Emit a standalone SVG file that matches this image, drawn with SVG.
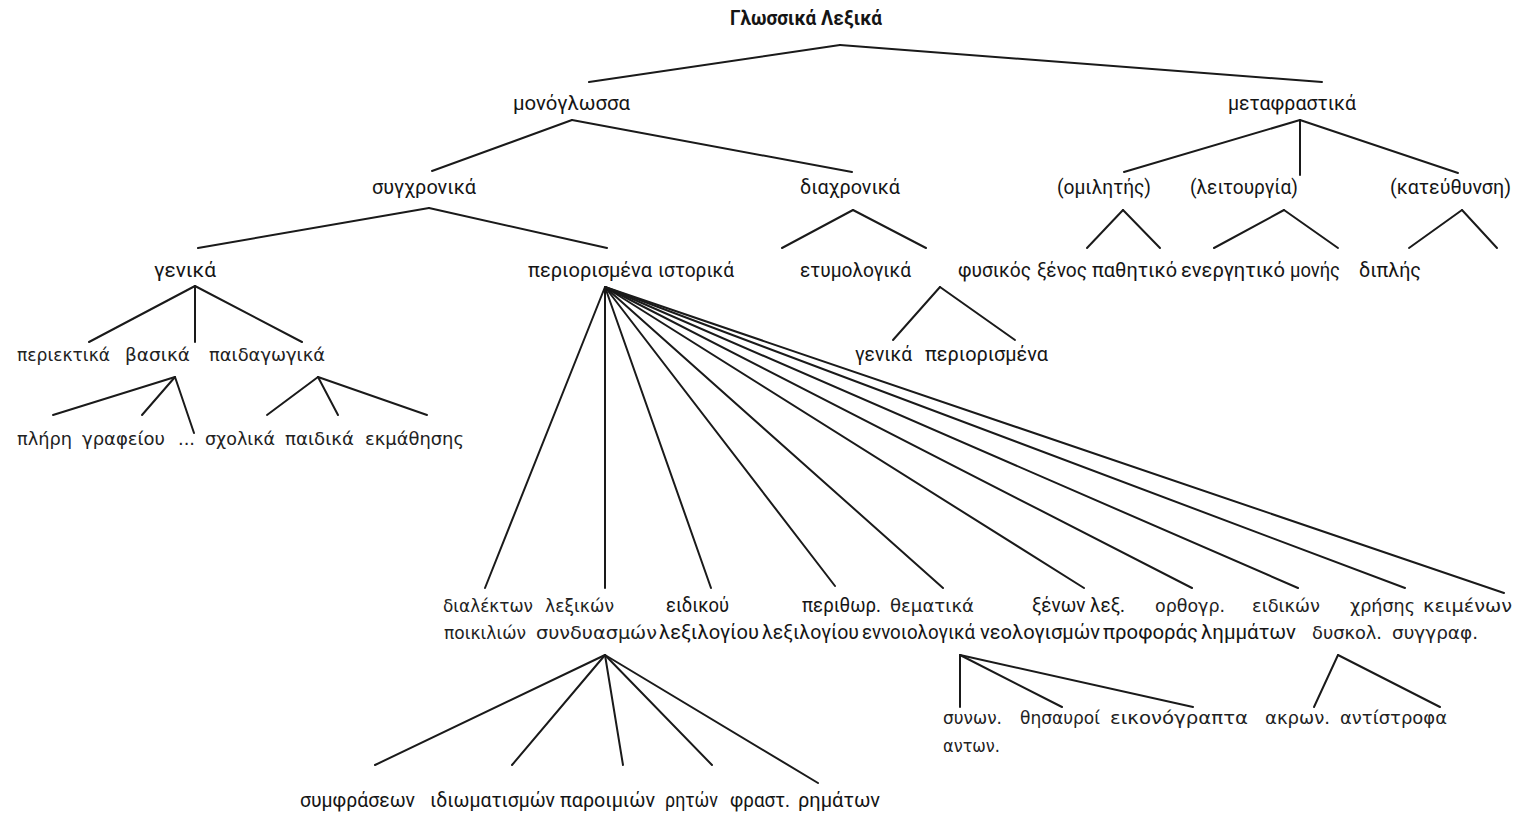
<svg xmlns="http://www.w3.org/2000/svg" width="1522" height="813" viewBox="0 0 1522 813">
<style>
.c{font-family:Roboto,"Noto Sans","DejaVu Sans",sans-serif;font-size:20px;fill:#151515}
.g{font-family:"DejaVu Sans","Noto Sans",sans-serif;font-size:18px;fill:#222}
.b{font-weight:bold}
#edges line{stroke:#1a1a1a;stroke-width:2;stroke-linecap:round}
</style>
<rect width="1522" height="813" fill="#fff"/>
<g id="edges">
<line x1="840" y1="45" x2="589" y2="82"/>
<line x1="840" y1="45" x2="1322" y2="82"/>
<line x1="572" y1="120" x2="432" y2="171"/>
<line x1="572" y1="120" x2="852" y2="172"/>
<line x1="1300" y1="120" x2="1124" y2="172"/>
<line x1="1300" y1="120" x2="1300" y2="175"/>
<line x1="1300" y1="120" x2="1458" y2="173"/>
<line x1="429" y1="208" x2="198" y2="248"/>
<line x1="429" y1="208" x2="607" y2="248"/>
<line x1="853" y1="210" x2="782" y2="248"/>
<line x1="853" y1="210" x2="926" y2="248"/>
<line x1="1123" y1="210" x2="1087" y2="248"/>
<line x1="1123" y1="210" x2="1160" y2="248"/>
<line x1="1284" y1="210" x2="1214" y2="248"/>
<line x1="1284" y1="210" x2="1338" y2="248"/>
<line x1="1462" y1="210" x2="1409" y2="248"/>
<line x1="1462" y1="210" x2="1497" y2="248"/>
<line x1="195" y1="286" x2="89" y2="342"/>
<line x1="195" y1="286" x2="195" y2="342"/>
<line x1="195" y1="286" x2="302" y2="342"/>
<line x1="175" y1="377" x2="53" y2="415"/>
<line x1="175" y1="377" x2="142" y2="415"/>
<line x1="175" y1="377" x2="194" y2="433"/>
<line x1="318" y1="377" x2="267" y2="415"/>
<line x1="318" y1="377" x2="338" y2="415"/>
<line x1="318" y1="377" x2="427" y2="415"/>
<line x1="940" y1="287" x2="893" y2="340"/>
<line x1="940" y1="287" x2="1015" y2="340"/>
<line x1="605" y1="287" x2="485" y2="588"/>
<line x1="605" y1="287" x2="605" y2="588"/>
<line x1="605" y1="287" x2="711" y2="588"/>
<line x1="605" y1="287" x2="835" y2="586"/>
<line x1="605" y1="287" x2="943" y2="588"/>
<line x1="605" y1="287" x2="1084" y2="588"/>
<line x1="605" y1="287" x2="1192" y2="588"/>
<line x1="605" y1="287" x2="1298" y2="588"/>
<line x1="605" y1="287" x2="1405" y2="588"/>
<line x1="605" y1="287" x2="1504" y2="593"/>
<line x1="605" y1="655" x2="375" y2="765"/>
<line x1="605" y1="655" x2="512" y2="765"/>
<line x1="605" y1="655" x2="623" y2="765"/>
<line x1="605" y1="655" x2="712" y2="765"/>
<line x1="605" y1="655" x2="818" y2="783"/>
<line x1="960" y1="655" x2="960" y2="707"/>
<line x1="960" y1="655" x2="1062" y2="707"/>
<line x1="960" y1="655" x2="1193" y2="707"/>
<line x1="1338" y1="655" x2="1314" y2="707"/>
<line x1="1338" y1="655" x2="1440" y2="707"/>
</g>
<g id="n-root"><text class="c b" x="730" y="25" textLength="152" lengthAdjust="spacingAndGlyphs">Γλωσσικά Λεξικά</text></g>
<g id="n-monoglossa"><text class="c" x="513" y="110" textLength="117" lengthAdjust="spacingAndGlyphs">μονόγλωσσα</text></g>
<g id="n-metafrastika"><text class="c" x="1228" y="110" textLength="128" lengthAdjust="spacingAndGlyphs">μεταφραστικά</text></g>
<g id="n-syghronika"><text class="c" x="372" y="194" textLength="104" lengthAdjust="spacingAndGlyphs">συγχρονικά</text></g>
<g id="n-diahronika"><text class="c" x="800" y="194" textLength="100" lengthAdjust="spacingAndGlyphs">διαχρονικά</text></g>
<g id="n-omilitis"><text class="c" x="1057" y="194" textLength="94" lengthAdjust="spacingAndGlyphs">(ομιλητής)</text></g>
<g id="n-leitourgia"><text class="c" x="1190" y="194" textLength="108" lengthAdjust="spacingAndGlyphs">(λειτουργία)</text></g>
<g id="n-kateuthynsi"><text class="c" x="1390" y="194" textLength="121" lengthAdjust="spacingAndGlyphs">(κατεύθυνση)</text></g>
<g id="n-genika"><text class="c" x="154" y="277" textLength="62" lengthAdjust="spacingAndGlyphs">γενικά</text></g>
<g id="n-periorismena-istorika"><text class="c" y="277"><tspan x="528" textLength="124" lengthAdjust="spacingAndGlyphs">περιορισμένα</tspan><tspan x="658" textLength="76" lengthAdjust="spacingAndGlyphs">ιστορικά</tspan></text></g>
<g id="n-etymologika"><text class="c" x="800" y="277" textLength="111" lengthAdjust="spacingAndGlyphs">ετυμολογικά</text></g>
<g id="n-fysikos"><text class="c" x="958" y="277" textLength="73" lengthAdjust="spacingAndGlyphs">φυσικός</text></g>
<g id="n-xenos"><text class="c" x="1037" y="277" textLength="50" lengthAdjust="spacingAndGlyphs">ξένος</text></g>
<g id="n-pathitiko"><text class="c" x="1092" y="277" textLength="85" lengthAdjust="spacingAndGlyphs">παθητικό</text></g>
<g id="n-energitiko"><text class="c" x="1181" y="277" textLength="104" lengthAdjust="spacingAndGlyphs">ενεργητικό</text></g>
<g id="n-monis"><text class="c" x="1290" y="277" textLength="50" lengthAdjust="spacingAndGlyphs">μονής</text></g>
<g id="n-diplis"><text class="c" x="1359" y="277" textLength="62" lengthAdjust="spacingAndGlyphs">διπλής</text></g>
<g id="n-periektika"><text class="g" x="17" y="361" textLength="93" lengthAdjust="spacingAndGlyphs">περιεκτικά</text></g>
<g id="n-vasika"><text class="g" x="125" y="361" textLength="65" lengthAdjust="spacingAndGlyphs">βασικά</text></g>
<g id="n-paidagogika"><text class="g" x="209" y="361" textLength="116" lengthAdjust="spacingAndGlyphs">παιδαγωγικά</text></g>
<g id="n-fys-genika"><text class="c" x="855" y="361" textLength="57" lengthAdjust="spacingAndGlyphs">γενικά</text></g>
<g id="n-fys-periorismena"><text class="c" x="925" y="361" textLength="123" lengthAdjust="spacingAndGlyphs">περιορισμένα</text></g>
<g id="n-pliri"><text class="g" x="17" y="445" textLength="55" lengthAdjust="spacingAndGlyphs">πλήρη</text></g>
<g id="n-grafeiou"><text class="g" x="82" y="445" textLength="83" lengthAdjust="spacingAndGlyphs">γραφείου</text></g>
<g id="n-dots"><text class="g" x="178" y="445" textLength="17" lengthAdjust="spacingAndGlyphs">...</text></g>
<g id="n-sholika"><text class="g" x="205" y="445" textLength="70" lengthAdjust="spacingAndGlyphs">σχολικά</text></g>
<g id="n-paidika"><text class="g" x="285" y="445" textLength="69" lengthAdjust="spacingAndGlyphs">παιδικά</text></g>
<g id="n-ekmathisis"><text class="g" x="365" y="445" textLength="99" lengthAdjust="spacingAndGlyphs">εκμάθησης</text></g>
<g id="n-dialekton"><text class="g" x="443" y="612" textLength="90" lengthAdjust="spacingAndGlyphs">διαλέκτων</text><text class="g" x="444" y="639" textLength="82" lengthAdjust="spacingAndGlyphs">ποικιλιών</text></g>
<g id="n-lexikon"><text class="g" x="545" y="612" textLength="69" lengthAdjust="spacingAndGlyphs">λεξικών</text><text class="g" x="536" y="639" textLength="121" lengthAdjust="spacingAndGlyphs">συνδυασμών</text></g>
<g id="n-eidikou"><text class="c" x="666" y="612" textLength="63" lengthAdjust="spacingAndGlyphs">ειδικού</text><text class="c" x="659" y="639" textLength="100" lengthAdjust="spacingAndGlyphs">λεξιλογίου</text></g>
<g id="n-perithor"><text class="c" x="802" y="612" textLength="79" lengthAdjust="spacingAndGlyphs">περιθωρ.</text><text class="c" x="762" y="639" textLength="97" lengthAdjust="spacingAndGlyphs">λεξιλογίου</text></g>
<g id="n-thematika"><text class="g" x="890" y="612" textLength="84" lengthAdjust="spacingAndGlyphs">θεματικά</text><text class="c" x="862" y="639" textLength="113" lengthAdjust="spacingAndGlyphs">εννοιολογικά</text></g>
<g id="n-xenon"><text class="c" x="1032" y="612" textLength="93" lengthAdjust="spacingAndGlyphs">ξένων λεξ.</text><text class="c" x="980" y="639" textLength="120" lengthAdjust="spacingAndGlyphs">νεολογισμών</text></g>
<g id="n-orthogr"><text class="g" x="1155" y="612" textLength="70" lengthAdjust="spacingAndGlyphs">ορθογρ.</text><text class="c" x="1103" y="639" textLength="95" lengthAdjust="spacingAndGlyphs">προφοράς</text></g>
<g id="n-eidikon"><text class="g" x="1252" y="612" textLength="68" lengthAdjust="spacingAndGlyphs">ειδικών</text><text class="c" x="1201" y="639" textLength="95" lengthAdjust="spacingAndGlyphs">λημμάτων</text></g>
<g id="n-hrisis"><text class="g" x="1350" y="612" textLength="65" lengthAdjust="spacingAndGlyphs">χρήσης</text><text class="g" x="1312" y="639" textLength="70" lengthAdjust="spacingAndGlyphs">δυσκολ.</text></g>
<g id="n-keimenon"><text class="g" x="1423" y="612" textLength="89" lengthAdjust="spacingAndGlyphs">κειμένων</text><text class="g" x="1392" y="639" textLength="86" lengthAdjust="spacingAndGlyphs">συγγραφ.</text></g>
<g id="n-synon"><text class="g" x="943" y="724" textLength="59" lengthAdjust="spacingAndGlyphs">συνων.</text><text class="g" x="943" y="752" textLength="57" lengthAdjust="spacingAndGlyphs">αντων.</text></g>
<g id="n-thisauroi"><text class="g" x="1020" y="724" textLength="80" lengthAdjust="spacingAndGlyphs">θησαυροί</text></g>
<g id="n-eikonograpta"><text class="g" x="1110" y="724" textLength="138" lengthAdjust="spacingAndGlyphs">εικονόγραπτα</text></g>
<g id="n-akron"><text class="g" x="1265" y="724" textLength="65" lengthAdjust="spacingAndGlyphs">ακρων.</text></g>
<g id="n-antistrofa"><text class="g" x="1340" y="724" textLength="107" lengthAdjust="spacingAndGlyphs">αντίστροφα</text></g>
<g id="n-symfraseon"><text class="c" x="300" y="807" textLength="115" lengthAdjust="spacingAndGlyphs">συμφράσεων</text></g>
<g id="n-idiomatismon"><text class="c" x="430" y="807" textLength="125" lengthAdjust="spacingAndGlyphs">ιδιωματισμών</text></g>
<g id="n-paroimion"><text class="c" x="560" y="807" textLength="95" lengthAdjust="spacingAndGlyphs">παροιμιών</text></g>
<g id="n-riton"><text class="c" x="665" y="807" textLength="53" lengthAdjust="spacingAndGlyphs">ρητών</text></g>
<g id="n-frast-rimaton"><text class="c" y="807"><tspan x="730" textLength="60" lengthAdjust="spacingAndGlyphs">φραστ.</tspan><tspan x="798" textLength="82" lengthAdjust="spacingAndGlyphs">ρημάτων</tspan></text></g>
</svg>
